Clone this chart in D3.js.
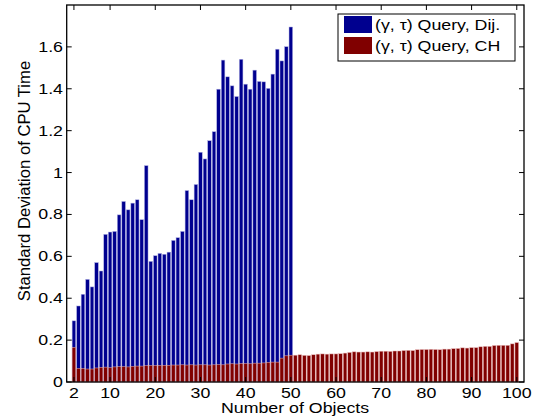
<!DOCTYPE html>
<html>
<meta charset=utf-8>
<head>
<script src="https://d3js.org/d3.v7.min.js"></script>
<style>
  body { margin: 0; background: #fff; }
  text { font-family: "Liberation Sans", Arial, sans-serif; fill: #000; }
</style>
</head>
<body>
<script>

// number of objects
var objects = d3.range(2, 101);

// std dev of cpu time, (gamma, tau) query with Dijkstra (2..50 only)
var dijValues = [0.292, 0.363, 0.419, 0.490, 0.454, 0.570, 0.530, 0.705, 0.716, 0.719,
                 0.798, 0.862, 0.822, 0.854, 0.870, 0.775, 1.033, 0.576, 0.603, 0.614,
                 0.610, 0.620, 0.676, 0.689, 0.719, 0.914, 0.870, 0.943, 1.097, 1.065,
                 1.152, 1.195, 1.398, 1.537, 1.457, 1.414, 1.363, 1.541, 1.422, 1.398,
                 1.489, 1.435, 1.433, 1.402, 1.470, 1.589, 1.533, 1.601, 1.695];

// std dev of cpu time, (gamma, tau) query with CH (2..100)
var chValues = [0.165, 0.065, 0.064, 0.062, 0.062, 0.067, 0.070, 0.071, 0.068, 0.072,
                0.073, 0.073, 0.072, 0.075, 0.076, 0.076, 0.078, 0.079, 0.079, 0.079,
                0.080, 0.080, 0.081, 0.081, 0.082, 0.081, 0.082, 0.081, 0.082, 0.082,
                0.081, 0.082, 0.083, 0.082, 0.086, 0.087, 0.086, 0.088, 0.088, 0.087,
                0.090, 0.090, 0.091, 0.094, 0.095, 0.095, 0.114, 0.125, 0.128, 0.128,
                0.130, 0.127, 0.126, 0.130, 0.133, 0.134, 0.133, 0.134, 0.134, 0.135,
                0.138, 0.141, 0.144, 0.143, 0.143, 0.144, 0.143, 0.145, 0.147, 0.147,
                0.146, 0.148, 0.148, 0.150, 0.151, 0.150, 0.154, 0.155, 0.155, 0.156,
                0.155, 0.154, 0.157, 0.157, 0.159, 0.160, 0.163, 0.162, 0.164, 0.164,
                0.168, 0.170, 0.170, 0.174, 0.175, 0.175, 0.175, 0.182, 0.188];

var xTicks = [2, 10, 20, 30, 40, 50, 60, 70, 80, 90, 100];
var yTicks = [0, 0.2, 0.4, 0.6, 0.8, 1, 1.2, 1.4, 1.6];
var seriesNames = ["(\u03b3, \u03c4) Query, Dij.", "(\u03b3, \u03c4) Query, CH"];
var seriesColors = ["#00008f", "#800000"];

var W = 548, H = 419;
var pLeft = 66.7, pRight = 524, pTop = 5, pBottom = 382;
var sx = 1.27; // text is drawn a bit wide in the original

var svg = d3.select('body').append('svg')
    .attr('width', W).attr('height', H);

var x = d3.scaleLinear().domain([0.4, 101.6]).range([pLeft, pRight]);
var y = d3.scaleLinear().domain([0, 1.8]).range([pBottom, pTop]);
var bw = (x(1) - x(0)) * 0.8;

function label(g, txt, tx, ty, anchor, size) {
  return g.append('text')
    .attr('transform', 'translate(' + tx + ',' + ty + ') scale(' + sx + ',1)')
    .attr('text-anchor', anchor)
    .attr('font-size', size)
    .text(txt);
}

// bars: blue first, red over it
svg.append('g').selectAll('rect')
  .data(dijValues)
  .join('rect')
    .attr('x', function(d, i) { return x(objects[i]) - bw / 2; })
    .attr('y', function(d) { return y(d); })
    .attr('width', bw)
    .attr('height', function(d) { return y(0) - y(d); })
    .attr('fill', seriesColors[0])
    .attr('stroke', '#b4b4e6')
    .attr('stroke-width', 0.5);

svg.append('g').selectAll('rect')
  .data(chValues)
  .join('rect')
    .attr('x', function(d, i) { return x(objects[i]) - bw / 2; })
    .attr('y', function(d) { return y(d); })
    .attr('width', bw)
    .attr('height', function(d) { return y(0) - y(d); })
    .attr('fill', seriesColors[1])
    .attr('stroke', '#e6b4b4')
    .attr('stroke-width', 0.5);

// axis box + inward ticks (matlab style)
var ax = svg.append('g');
ax.append('rect')
  .attr('x', pLeft).attr('y', pTop)
  .attr('width', pRight - pLeft).attr('height', pBottom - pTop)
  .attr('fill', 'none').attr('stroke', '#000').attr('stroke-width', 1.3);

var tl = 5;
xTicks.forEach(function(t) {
  ax.append('line').attr('x1', x(t)).attr('x2', x(t)).attr('y1', pBottom).attr('y2', pBottom - tl)
    .attr('stroke', '#000');
  ax.append('line').attr('x1', x(t)).attr('x2', x(t)).attr('y1', pTop).attr('y2', pTop + tl)
    .attr('stroke', '#000');
  label(ax, t, x(t), 398, 'middle', 14);
});
yTicks.forEach(function(t) {
  ax.append('line').attr('x1', pLeft).attr('x2', pLeft + tl).attr('y1', y(t)).attr('y2', y(t))
    .attr('stroke', '#000');
  ax.append('line').attr('x1', pRight).attr('x2', pRight - tl).attr('y1', y(t)).attr('y2', y(t))
    .attr('stroke', '#000');
  label(ax, t, 63, y(t) + 5, 'end', 14);
});

// axis labels
label(svg, 'Number of Objects', 295, 412.5, 'middle', 14);
svg.append('text')
  .attr('transform', 'translate(29.5,181) rotate(-90) scale(1.04,1)')
  .attr('text-anchor', 'middle')
  .attr('font-size', 16)
  .text('Standard Deviation of CPU Time');

// legend
var lg = svg.append('g');
lg.append('rect')
  .attr('x', 338).attr('y', 14).attr('width', 177).attr('height', 47)
  .attr('fill', '#fff').attr('stroke', '#000').attr('stroke-width', 1);
seriesNames.forEach(function(n, i) {
  lg.append('rect')
    .attr('x', 344).attr('y', 16 + i * 21).attr('width', 28).attr('height', 17)
    .attr('fill', seriesColors[i]);
  label(lg, n, 375, 29.5 + i * 21, 'start', 14);
});

</script>
</body>
</html>
